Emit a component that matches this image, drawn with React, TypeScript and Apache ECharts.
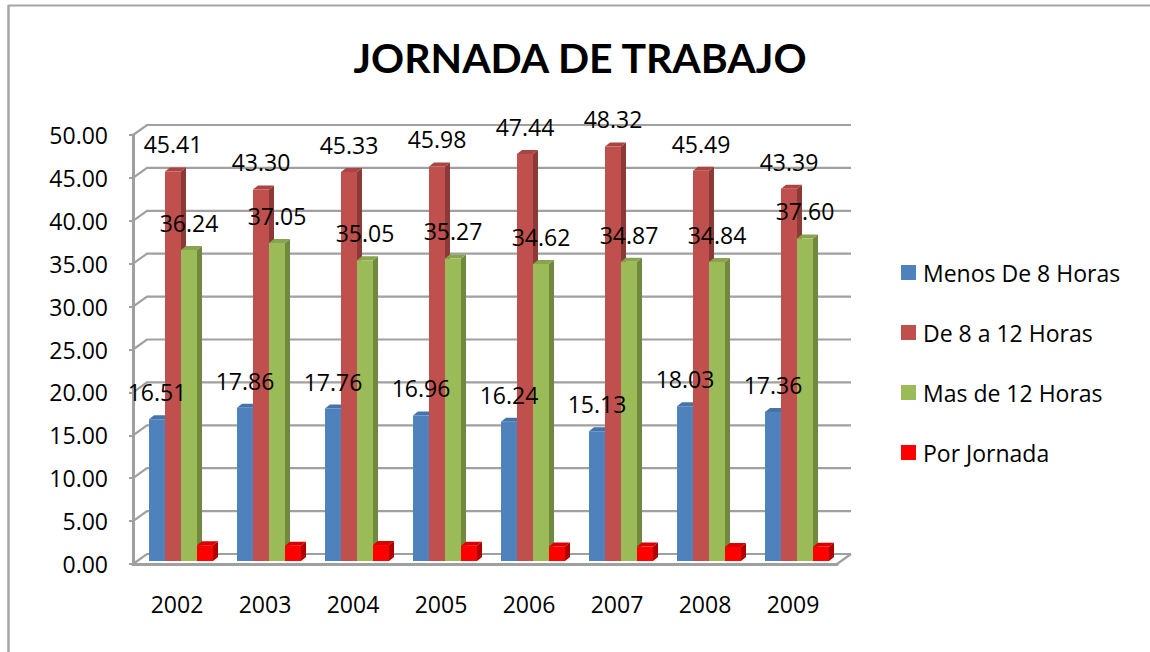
import React, { useEffect, useRef } from "react";
import * as echarts from "echarts";

const categories = ["2002", "2003", "2004", "2005", "2006", "2007", "2008", "2009"];
const menosDe8 = [16.51, 17.86, 17.76, 16.96, 16.24, 15.13, 18.03, 17.36];
const de8a12 = [45.41, 43.3, 45.33, 45.98, 47.44, 48.32, 45.49, 43.39];
const masDe12 = [36.24, 37.05, 35.05, 35.27, 34.62, 34.87, 34.84, 37.6];
const porJornada = [1.84, 1.79, 1.86, 1.79, 1.7, 1.68, 1.64, 1.65];
const yTicks = [0, 5, 10, 15, 20, 25, 30, 35, 40, 45, 50];

const FONT = "Open Sans";
const TITLE_FONT = "Lato";
const FONT_SIZE = 23;
const GRID = "#a0a0a0";
const WALL_DX = 14;
const WALL_DY = 10;
const BAR_W = 16;
const SIDE_DX = 5;
const SIDE_DY = 4;
const BAR_SHIFT_X = 4;
const BAR_SHIFT_Y = 3;

function barSeries(
  name: string,
  values: number[],
  index: number,
  front: string,
  side: string,
  top: string,
  showLabel: boolean
) {
  return {
    name,
    type: "custom",
    coordinateSystem: "cartesian2d",
    clip: false,
    itemStyle: { color: front },
    encode: { x: 0, y: 1 },
    data: values.map((v, i) => [i, v]),
    renderItem: (_: any, api: any) => {
      const value = api.value(1);
      const p = api.coord([api.value(0), value]);
      const zero = api.coord([api.value(0), 0]);
      const x0 = p[0] + BAR_SHIFT_X + (index - 2) * BAR_W;
      const x1 = x0 + BAR_W;
      const yTop = p[1] - BAR_SHIFT_Y;
      const yBase = zero[1] - BAR_SHIFT_Y;
      const children: any[] = [
        {
          type: "polygon",
          shape: {
            points: [
              [x1, yTop],
              [x1 + SIDE_DX, yTop - SIDE_DY],
              [x1 + SIDE_DX, yBase - SIDE_DY],
              [x1, yBase],
            ],
          },
          style: { fill: side },
        },
        {
          type: "polygon",
          shape: {
            points: [
              [x0, yTop],
              [x0 + SIDE_DX, yTop - SIDE_DY],
              [x1 + SIDE_DX, yTop - SIDE_DY],
              [x1, yTop],
            ],
          },
          style: { fill: top },
        },
        {
          type: "rect",
          shape: { x: x0, y: yTop, width: BAR_W, height: yBase - yTop },
          style: { fill: front },
        },
      ];
      if (showLabel) {
        children.push({
          type: "text",
          z2: 100,
          style: {
            text: value.toFixed(2),
            x: x0 + BAR_W / 2,
            y: yTop - 27,
            align: "center",
            verticalAlign: "middle",
            fontFamily: FONT,
            fontSize: FONT_SIZE,
            fill: "#000000",
          },
        });
      }
      return { type: "group", children };
    },
  };
}

const wallSeries = {
  name: "wall",
  type: "custom",
  coordinateSystem: "cartesian2d",
  clip: false,
  silent: true,
  encode: { x: 0, y: 1 },
  data: yTicks.map((v) => [0, v]),
  renderItem: (params: any, api: any) => {
    const v = api.value(1);
    const y = api.coord([0, v])[1];
    const cs = params.coordSys;
    const left = cs.x;
    const right = cs.x + cs.width;
    const lineStyle = { stroke: GRID, lineWidth: 2.2, fill: "none" };
    const children: any[] = [
      {
        type: "polyline",
        shape: {
          points: [
            [left, y],
            [left + WALL_DX, y - WALL_DY],
            [right + WALL_DX, y - WALL_DY],
          ],
        },
        style: lineStyle,
      },
    ];
    if (v === 0) {
      children.push({
        type: "line",
        shape: { x1: right, y1: y, x2: right + WALL_DX, y2: y - WALL_DY },
        style: lineStyle,
      });
    }
    return { type: "group", children };
  },
};

export default function App() {
  const ref = useRef<HTMLDivElement>(null);
  useEffect(() => {
    const chart = echarts.init(ref.current!, undefined, { renderer: "svg" });
    chart.setOption({
      animation: false,
      backgroundColor: "#ffffff",
      title: {
        text: "JORNADA DE TRABAJO",
        left: 575,
        top: 32,
        textAlign: "center",
        textStyle: { fontFamily: TITLE_FONT, fontSize: 41, fontWeight: "bold", color: "#000000" },
      },
      legend: {
        orient: "vertical",
        left: 901,
        top: 261,
        padding: 0,
        itemWidth: 15,
        itemHeight: 15,
        itemGap: 37,
        icon: "rect",
        data: ["Menos De 8 Horas", "De 8 a 12 Horas", "Mas de 12 Horas", "Por Jornada"],
        textStyle: { fontFamily: FONT, fontSize: 23, color: "#000000", padding: [0, 0, 0, 2] },
      },
      grid: { left: 133, right: 313, top: 135, bottom: 88 },
      xAxis: {
        type: "category",
        data: categories,
        axisTick: { show: false },
        axisLine: { lineStyle: { color: GRID, width: 3 } },
        axisLabel: { fontFamily: FONT, fontSize: FONT_SIZE, color: "#000000", margin: 28 },
      },
      yAxis: {
        type: "value",
        min: 0,
        max: 50,
        interval: 5,
        splitLine: { show: false },
        axisLine: { show: true, lineStyle: { color: GRID, width: 3 } },
        axisTick: { show: true, length: 4, lineStyle: { color: GRID, width: 2 } },
        axisLabel: {
          fontFamily: FONT,
          fontSize: FONT_SIZE,
          color: "#000000",
          margin: 25,
          formatter: (v: number) => v.toFixed(2),
        },
      },
      graphic: [
        {
          type: "line",
          shape: { x1: 8.5, y1: 5.5, x2: 1150, y2: 5.5 },
          style: { stroke: "#a6a6a6", lineWidth: 2 },
        },
        {
          type: "line",
          shape: { x1: 8.5, y1: 5, x2: 8.5, y2: 652 },
          style: { stroke: "#a6a6a6", lineWidth: 2.5 },
        },
      ],
      series: [
        wallSeries,
        barSeries("Menos De 8 Horas", menosDe8, 0, "#4f81bd", "#3a5f8b", "#4674a9", true),
        barSeries("De 8 a 12 Horas", de8a12, 1, "#c0504d", "#8b3a38", "#a84644", true),
        barSeries("Mas de 12 Horas", masDe12, 2, "#9bbb59", "#71893f", "#88a44e", true),
        barSeries("Por Jornada", porJornada, 3, "#ff0000", "#b00000", "#d80000", false),
      ],
    });
    return () => chart.dispose();
  }, []);
  return <div ref={ref} style={{ position: "fixed", left: 0, top: 0, width: 1150, height: 652 }} />;
}
